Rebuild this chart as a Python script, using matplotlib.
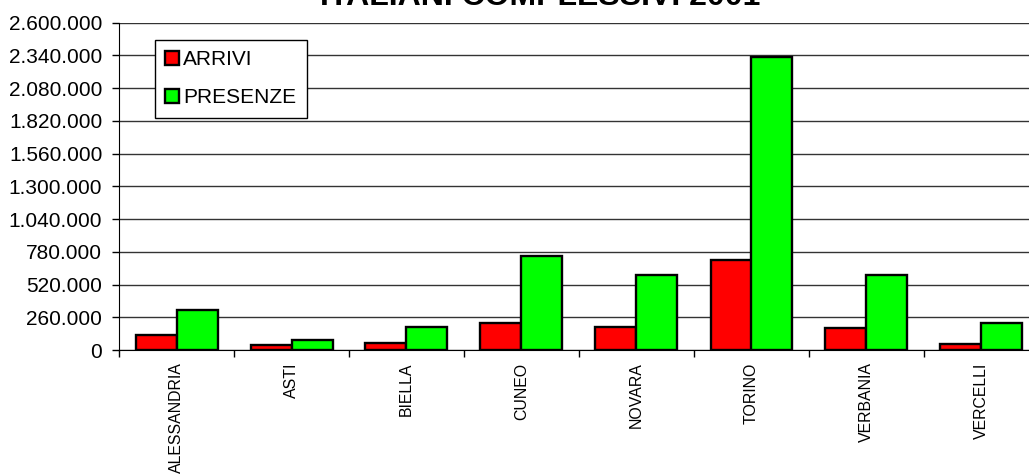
import numpy as np
import matplotlib
matplotlib.use("Agg")
import matplotlib.pyplot as plt
from matplotlib.ticker import FuncFormatter, FixedLocator

# dati
province = ["ALESSANDRIA", "ASTI", "BIELLA", "CUNEO", "NOVARA", "TORINO", "VERBANIA", "VERCELLI"]
arrivi = [119000, 37000, 55000, 212000, 180000, 713000, 177000, 48000]
presenze = [317000, 77000, 180000, 745000, 597000, 2330000, 592000, 216000]
y_ticks = [0, 260000, 520000, 780000, 1040000, 1300000, 1560000, 1820000, 2080000, 2340000, 2600000]

plt.rcParams['font.family'] = ['Liberation Sans', 'DejaVu Sans']

W, H = 1029, 475
fig = plt.figure(figsize=(W / 100, H / 100), dpi=100)
# l'area del grafico esce un po' a destra, come nell'originale
ax = fig.add_axes([119 / W, (H - 350) / H, 920 / W, 327.3 / H])

x = np.arange(len(province))
bw = 41 / 115
ax.bar(x - bw / 2, arrivi, bw, color='#ff0000', edgecolor='black', linewidth=1.7, label='ARRIVI', zorder=3)
ax.bar(x + bw / 2, presenze, bw, color='#00ff00', edgecolor='black', linewidth=1.7, label='PRESENZE', zorder=3)

ax.set_xlim(-0.5, len(province) - 0.5)
ax.set_ylim(0, 2600000)
ax.set_yticks(y_ticks)
ax.yaxis.set_major_formatter(FuncFormatter(lambda v, p: f"{v:,.0f}".replace(',', '.')))
ax.yaxis.grid(True, color='#333333', linewidth=1, zorder=0)

# tick tra le categorie, etichette al centro
ax.set_xticks(x)
ax.set_xticklabels(province, rotation=90, fontsize=11.4, va='top')
ax.xaxis.set_minor_locator(FixedLocator(np.arange(-0.5, len(province), 1)))
ax.tick_params(axis='x', which='major', length=0, pad=9)
ax.tick_params(axis='x', which='minor', length=5, width=1, color='black')
ax.tick_params(axis='y', length=5, width=1, pad=7, labelsize=15, color='black')

for s in ['top', 'right']:
    ax.spines[s].set_visible(False)
ax.spines['left'].set_color('black')
ax.spines['bottom'].set_color('black')
ax.spines['left'].set_zorder(4)
ax.spines['bottom'].set_zorder(4)

leg = ax.legend(loc='upper left', bbox_to_anchor=(36 / 920, (350 - 40) / 327.3),
                borderaxespad=0, fancybox=False, edgecolor='black', framealpha=1,
                fontsize=15, handlelength=0.65, handleheight=0.7, handletextpad=0.2,
                labelspacing=0.9, borderpad=0.5)
leg.get_frame().set_linewidth(1)

fig.text(540 / W, (H - 5) / H, "ITALIANI COMPLESSIVI 2001", ha='center', va='baseline',
         fontsize=23, fontweight='bold')

fig.savefig('out.png', dpi=100)
